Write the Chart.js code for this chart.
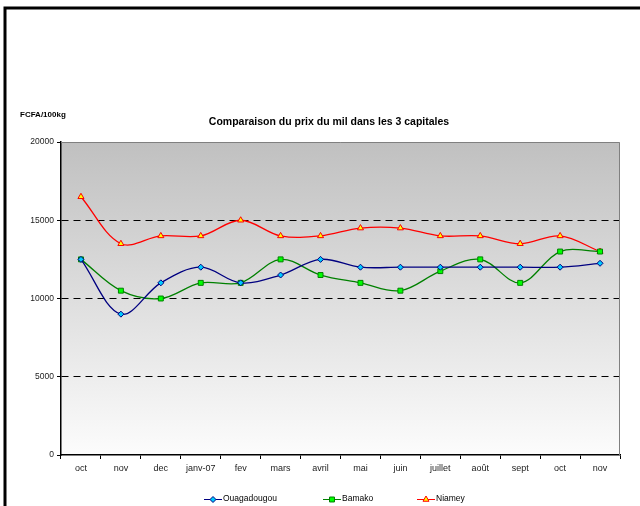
<!DOCTYPE html>
<html>
<head>
<meta charset="utf-8">
<script src="https://cdn.jsdelivr.net/npm/chart.js@4.4.1/dist/chart.umd.min.js"></script>
<style>
  html, body { margin: 0; padding: 0; background: #fff; }
  #wrap { width: 640px; height: 506px; }
</style>
</head>
<body>
<div id="wrap"><canvas id="prixChart" width="640" height="506"></canvas></div>
<script>
let months = ['oct', 'nov', 'dec', 'janv-07', 'fev', 'mars', 'avril', 'mai', 'juin', 'juillet', 'août', 'sept', 'oct', 'nov'];
let ouagadougou = [12500, 9000, 11000, 12000, 11000, 11500, 12500, 12000, 12000, 12000, 12000, 12000, 12000, 12250];
let bamako = [12500, 10500, 10000, 11000, 11000, 12500, 11500, 11000, 10500, 11750, 12500, 11000, 13000, 13000];
let niamey = [16500, 13500, 14000, 14000, 15000, 14000, 14000, 14500, 14500, 14000, 14000, 13500, 14000, 13000];
let yTicks = [0, 5000, 10000, 15000, 20000];

let chartTitle = 'Comparaison du prix du mil dans les 3 capitales';
let unitLabel = 'FCFA/100kg';

// background gradient, frame, titles and the legend
let decorations = {
    id: 'decorations',
    beforeDraw(chart) {
        let c = chart.ctx;
        let a = chart.chartArea;
        let grad = c.createLinearGradient(0, a.top, 0, a.bottom);
        grad.addColorStop(0, '#c0c0c0');
        grad.addColorStop(1, '#fcfcfc');
        c.save();
        c.fillStyle = grad;
        c.fillRect(a.left, a.top, a.right - a.left, a.bottom - a.top);
        c.restore();
    },
    afterDatasetsDraw(chart) {
        let c = chart.ctx;
        let a = chart.chartArea;
        c.save();
        // gray top / right border of plot area
        c.strokeStyle = '#808080';
        c.lineWidth = 1;
        c.beginPath();
        c.moveTo(a.left, a.top + 0.5);
        c.lineTo(a.right - 0.5, a.top + 0.5);
        c.lineTo(a.right - 0.5, a.bottom);
        c.stroke();
        c.restore();
    },
    afterDraw(chart) {
        let c = chart.ctx;
        c.save();
        // outer black frame
        c.strokeStyle = '#000';
        c.lineWidth = 3;
        c.beginPath();
        c.moveTo(640, 8);
        c.lineTo(5, 8);
        c.lineTo(5, 506);
        c.stroke();

        c.fillStyle = '#000';
        c.textBaseline = 'middle';
        c.font = 'bold 10.5px "Liberation Sans", Arial, sans-serif';
        c.textAlign = 'center';
        c.fillText(chartTitle, 329, 122);
        c.font = 'bold 8px "Liberation Sans", Arial, sans-serif';
        c.textAlign = 'left';
        c.fillText(unitLabel, 20, 115);

        // legend
        let items = [
            { label: 'Ouagadougou', x: 204, ds: chart.data.datasets[0] },
            { label: 'Bamako', x: 323, ds: chart.data.datasets[1] },
            { label: 'Niamey', x: 417, ds: chart.data.datasets[2] }
        ];
        let ly = 499;
        items.forEach(it => {
            c.strokeStyle = it.ds.borderColor;
            c.lineWidth = 1;
            c.beginPath();
            c.moveTo(it.x, ly + 0.5);
            c.lineTo(it.x + 18, ly + 0.5);
            c.stroke();
            c.fillStyle = it.ds.pointBackgroundColor;
            c.strokeStyle = it.ds.pointBorderColor;
            Chart.helpers.drawPoint(c, {
                pointStyle: it.ds.pointStyle,
                radius: it.ds.pointRadius,
                borderWidth: 1,
                rotation: 0
            }, it.x + 9, ly + 0.5);
            c.fillStyle = '#000';
            c.font = '8.5px "Liberation Sans", Arial, sans-serif';
            c.textAlign = 'left';
            c.fillText(it.label, it.x + 19, ly);
        });
        c.restore();
    }
};

let ctx = document.getElementById('prixChart').getContext('2d');
let chart = new Chart(ctx, {
    type: 'line',
    data: {
        labels: months,
        datasets: [{
            label: 'Ouagadougou',
            data: ouagadougou,
            borderColor: '#000080',
            borderWidth: 1.3,
            pointStyle: 'rectRot',
            pointRadius: 3,
            pointBackgroundColor: '#00ccff',
            pointBorderColor: '#000080',
            pointBorderWidth: 1
        }, {
            label: 'Bamako',
            data: bamako,
            borderColor: '#008000',
            borderWidth: 1.3,
            pointStyle: 'rect',
            pointRadius: 3.5,
            pointBackgroundColor: '#00ff00',
            pointBorderColor: '#008000',
            pointBorderWidth: 1
        }, {
            label: 'Niamey',
            data: niamey,
            borderColor: '#ff0000',
            borderWidth: 1.3,
            pointStyle: 'triangle',
            pointRadius: 3.5,
            pointBackgroundColor: '#ffff00',
            pointBorderColor: '#ff0000',
            pointBorderWidth: 1
        }]
    },
    options: {
        responsive: false,
        animation: false,
        layout: { padding: { top: 142, right: 20, bottom: 30, left: 10 } },
        elements: { line: { tension: 0.35 } },
        scales: {
            x: {
                offset: true,
                afterFit(scale) { scale.height = 21; },
                grid: {
                    offset: true,
                    color: 'rgba(0,0,0,0)',
                    tickColor: '#000',
                    tickLength: 4,
                    drawOnChartArea: false
                },
                border: { color: '#000', width: 1.5 },
                ticks: {
                    color: '#222',
                    font: { family: '"Liberation Sans", Arial, sans-serif', size: 9 },
                    maxRotation: 0,
                    autoSkip: false,
                    padding: 4
                }
            },
            y: {
                min: 0,
                max: 20000,
                afterFit(scale) { scale.width = 51; },
                afterBuildTicks(scale) { scale.ticks = yTicks.map(v => ({ value: v })); },
                grid: {
                    color: c => (c.tick && c.tick.value > 0 && c.tick.value < 20000) ? '#000' : 'rgba(0,0,0,0)',
                    lineWidth: 1,
                    tickColor: '#000',
                    tickLength: 4
                },
                border: { color: '#000', width: 1.5, dash: [7, 5] },
                ticks: {
                    color: '#222',
                    font: { family: '"Liberation Sans", Arial, sans-serif', size: 8.5 },
                    padding: 3,
                    callback: v => String(v)
                }
            }
        },
        plugins: {
            legend: { display: false },
            title: { display: false },
            tooltip: { enabled: false }
        }
    },
    plugins: [decorations]
});
</script>
</body>
</html>
